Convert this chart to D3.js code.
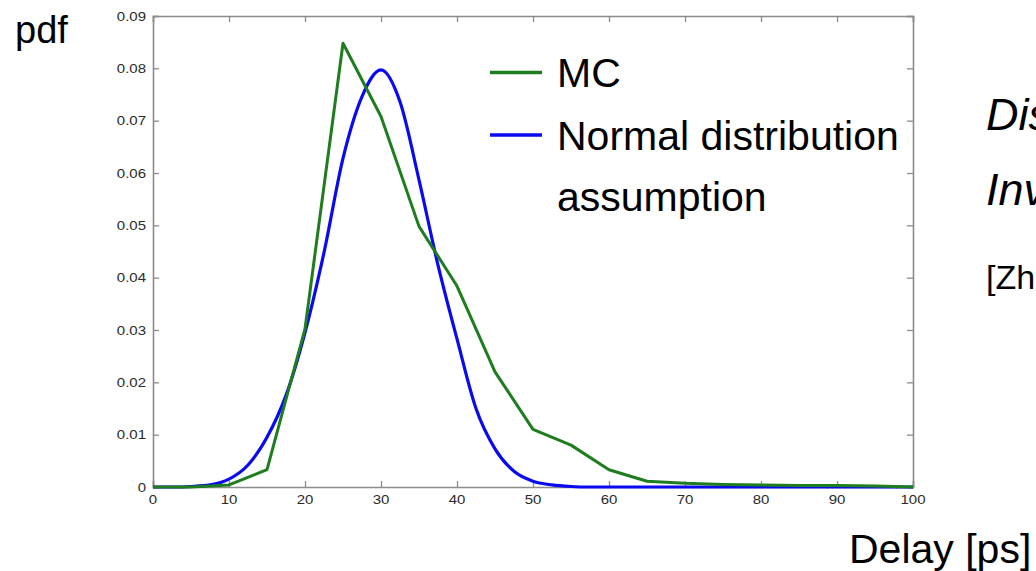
<!DOCTYPE html>
<html>
<head>
<meta charset="utf-8">
<script src="https://cdn.jsdelivr.net/npm/d3@7"></script>
<style>
  html, body { margin: 0; padding: 0; background: #fff; overflow: hidden; }
  svg { display: block; font-family: "Liberation Sans", Arial, Helvetica, sans-serif; }
</style>
</head>
<body>
<svg id="chart" width="1036" height="571"></svg>
<script>
// ---- data ----
const mcX = [0, 5, 10, 15, 20, 25, 30, 35, 40, 45, 50, 55, 60, 65, 70, 75, 80, 85, 90, 95, 100];
const mcY = [0, 0, 0.0004, 0.0033, 0.0302, 0.0848, 0.0708, 0.0498, 0.0384, 0.0220, 0.0110, 0.0080, 0.0033, 0.0011, 0.0007, 0.0005, 0.0004, 0.0003, 0.0003, 0.0002, 0];

const normX = [0, 2.5, 5, 7.5, 10, 12.5, 15, 17.5, 20, 22.5, 25, 27.5, 30, 32.5, 35, 37.5, 40, 42.5, 45, 47.5, 50, 52.5, 55, 57.5, 60, 70, 80, 90, 100];
const normY = [0, 0, 0.0001, 0.0004, 0.0015, 0.0042, 0.0095, 0.0175, 0.0295, 0.0448, 0.0628, 0.0746, 0.0797, 0.0736, 0.0587, 0.0424, 0.0283, 0.0150, 0.0073, 0.0030, 0.0011, 0.0004, 0.0001, 0, 0, 0, 0, 0, 0];

const xTicks = [0, 10, 20, 30, 40, 50, 60, 70, 80, 90, 100];
const xTickLabels = ["0", "10", "20", "30", "40", "50", "60", "70", "80", "90", "100"];
const yTicks = [0, 0.01, 0.02, 0.03, 0.04, 0.05, 0.06, 0.07, 0.08, 0.09];
const yTickLabels = ["0", "0.01", "0.02", "0.03", "0.04", "0.05", "0.06", "0.07", "0.08", "0.09"];

const seriesNames = ["MC", "Normal distribution", "assumption"];
const yLabel = "pdf";
const xLabel = "Delay [ps]";
const sideTexts = ["Dis", "Inv"];
const sideRef = "[Zh";

// ---- layout ----
const svg = d3.select("#chart");
const plotL = 153, plotR = 913, plotT = 16, plotB = 487;
const x = d3.scaleLinear().domain([0, 100]).range([plotL, plotR]);
const y = d3.scaleLinear().domain([0, 0.09]).range([plotB, plotT]);

const axisColor = "#8c8c8c";
const green = "#1e7d1e";
const blue = "#0a0af0";

// axes with inward ticks (box style)
const tickLen = 6;
const gB = svg.append("g").attr("transform", `translate(0,${plotB})`)
  .call(d3.axisBottom(x).tickValues(xTicks).tickSize(-tickLen).tickFormat(""));
const gT = svg.append("g").attr("transform", `translate(0,${plotT})`)
  .call(d3.axisTop(x).tickValues(xTicks).tickSize(-tickLen).tickFormat(""));
const gL = svg.append("g").attr("transform", `translate(${plotL},0)`)
  .call(d3.axisLeft(y).tickValues(yTicks).tickSize(-tickLen).tickFormat(""));
const gR = svg.append("g").attr("transform", `translate(${plotR},0)`)
  .call(d3.axisRight(y).tickValues(yTicks).tickSize(-tickLen).tickFormat(""));
[gB, gT, gL, gR].forEach(g => {
  g.selectAll(".domain").attr("stroke", axisColor).attr("stroke-width", 1.6);
  g.selectAll(".tick line").attr("stroke", axisColor).attr("stroke-width", 1.3);
});

// tick labels (slightly wide font as in the reference)
svg.append("g").selectAll("text").data(xTicks).join("text")
  .attr("transform", d => `translate(${x(d)},${plotB + 17}) scale(1.2,1)`)
  .attr("text-anchor", "middle")
  .attr("font-size", 12.5)
  .attr("fill", "#2a2a2a")
  .text((d, i) => xTickLabels[i]);

svg.append("g").selectAll("text").data(yTicks).join("text")
  .attr("transform", d => `translate(${plotL - 7},${y(d) + 4.5}) scale(1.2,1)`)
  .attr("text-anchor", "end")
  .attr("font-size", 12.5)
  .attr("fill", "#2a2a2a")
  .text((d, i) => yTickLabels[i]);

// lines
const lineNorm = d3.line()
  .x((d, i) => x(normX[i]))
  .y(d => y(d))
  .curve(d3.curveMonotoneX);
const lineMC = d3.line()
  .x((d, i) => x(mcX[i]))
  .y(d => y(d));

svg.append("path").datum(normY)
  .attr("d", lineNorm)
  .attr("fill", "none").attr("stroke", blue).attr("stroke-width", 3.2)
  .attr("stroke-linejoin", "round");
svg.append("path").datum(mcY)
  .attr("d", lineMC)
  .attr("fill", "none").attr("stroke", green).attr("stroke-width", 3)
  .attr("stroke-linejoin", "round");

// legend
const legX1 = 490, legX2 = 542, textX = 557;
svg.append("line").attr("x1", legX1).attr("x2", legX2).attr("y1", 72.5).attr("y2", 72.5)
  .attr("stroke", green).attr("stroke-width", 3.5);
svg.append("line").attr("x1", legX1).attr("x2", legX2).attr("y1", 135).attr("y2", 135)
  .attr("stroke", blue).attr("stroke-width", 3.5);
svg.append("text").attr("x", textX).attr("y", 87).attr("font-size", 41).attr("fill", "#000").text(seriesNames[0]);
svg.append("text").attr("x", textX).attr("y", 150).attr("font-size", 41).attr("fill", "#000").text(seriesNames[1]);
svg.append("text").attr("x", textX).attr("y", 211).attr("font-size", 41).attr("fill", "#000").text(seriesNames[2]);

// axis titles
svg.append("text").attr("x", 15).attr("y", 43).attr("font-size", 38).attr("fill", "#000").text(yLabel);
svg.append("text").attr("x", 849).attr("y", 563).attr("font-size", 41).attr("fill", "#000").text(xLabel);

// side texts (clipped by page edge)
svg.append("text").attr("x", 986).attr("y", 130).attr("font-size", 45).attr("font-style", "italic").attr("fill", "#000").text(sideTexts[0]);
svg.append("text").attr("x", 986).attr("y", 205).attr("font-size", 45).attr("font-style", "italic").attr("fill", "#000").text(sideTexts[1]);
svg.append("text").attr("x", 986).attr("y", 289).attr("font-size", 34).attr("fill", "#000").text(sideRef);
</script>
</body>
</html>
